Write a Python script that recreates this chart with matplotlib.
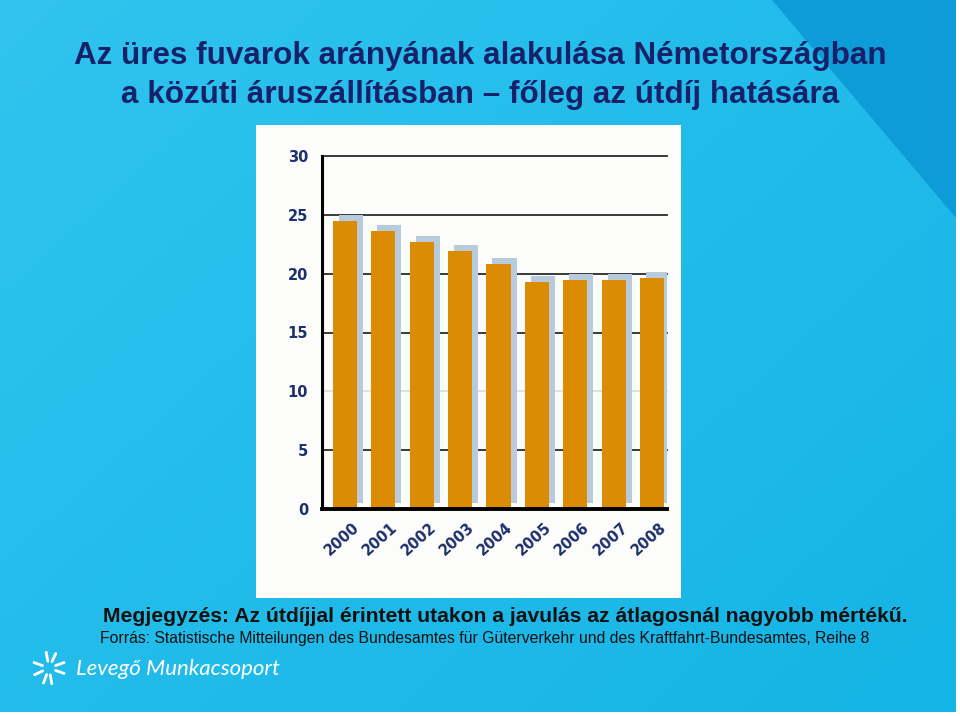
import numpy as np
import matplotlib.pyplot as plt
import matplotlib.transforms as mtransforms
from matplotlib.patches import Rectangle, Polygon

years = ['2000', '2001', '2002', '2003', '2004', '2005', '2006', '2007', '2008']
empty_share = [24.5, 23.6, 22.7, 21.9, 20.8, 19.3, 19.5, 19.5, 19.6]
yticks = [0, 5, 10, 15, 20, 25, 30]

title_lines = ['Az üres fuvarok arányának alakulása Németországban',
               'a közúti áruszállításban – főleg az útdíj hatására']
note = 'Megjegyzés: Az útdíjjal érintett utakon a javulás az átlagosnál nagyobb mértékű.'
source = ('Forrás: Statistische Mitteilungen des Bundesamtes für Güterverkehr '
          'und des Kraftfahrt-Bundesamtes, Reihe 8')
logo = 'Levegő Munkacsoport'

W, H = 960, 716
fig = plt.figure(figsize=(W / 100, H / 100), dpi=100)
fig.patch.set_facecolor('white')

# slide background in pixel coordinates
bg = fig.add_axes([0, 0, 1, 1])
bg.set_xlim(0, W)
bg.set_ylim(H, 0)
bg.axis('off')
yy, xx = np.mgrid[0:1:200j, 0:1:200j]
t = 0.55 * xx + 0.45 * yy
c0 = np.array([48, 196, 238]) / 255
c1 = np.array([20, 180, 230]) / 255
img = c0 + (c1 - c0) * t[..., None]
bg.imshow(img, extent=[0, 956, 712, 0], aspect='auto', zorder=0)
bg.add_patch(Polygon([[772, 0], [956, 0], [956, 218]], closed=True,
                     facecolor='#0e9cd8', edgecolor='none', zorder=1))
bg.add_patch(Rectangle((256, 125), 425, 473, facecolor='#fcfcfa',
                       edgecolor='none', zorder=2))

navy = '#17216a'
sans = ['Liberation Sans', 'DejaVu Sans']
bg.text(480, 56, title_lines[0], ha='center', va='center', fontsize=22.6,
        fontweight='bold', color=navy, family=sans, zorder=3)
bg.text(480, 95, title_lines[1], ha='center', va='center', fontsize=22.6,
        fontweight='bold', color=navy, family=sans, zorder=3)
bg.text(103, 617, note, ha='left', va='center', fontsize=15.2, fontweight='bold',
        color='#111111', family=sans, zorder=3)
bg.text(100, 638, source, ha='left', va='center', fontsize=11.3,
        color='#111111', family=sans, zorder=3)

# logo
cx, cy = 49, 668
for ang in [100, 65, 20, 160, 205, 250, 280, 340]:
    a = np.deg2rad(ang)
    r0, r1 = 7, 16
    bg.plot([cx + r0 * np.cos(a), cx + r1 * np.cos(a)],
            [cy - r0 * np.sin(a), cy - r1 * np.sin(a)],
            color='white', lw=2, solid_capstyle='round', zorder=3)
bg.text(76, 669, logo, ha='left', va='center', fontsize=16, color='white',
        style='italic', family=['Lato', 'DejaVu Sans'], zorder=3)

# chart
ax = fig.add_axes([322 / W, (H - 509) / H, (667 - 322) / W, (509 - 156) / H])
ax.patch.set_alpha(0)
x = np.arange(len(years))
shadow = mtransforms.offset_copy(ax.transData, fig=fig, x=6, y=6, units='dots')
ax.bar(x, empty_share, width=0.63, color='#b8cbdc', transform=shadow, zorder=2)
ax.bar(x, empty_share, width=0.63, color='#dc8b04', zorder=3)
for v in yticks[1:]:
    ax.axhline(v, color='#dddddd' if v == 10 else '#2a2a2a', lw=1.3, zorder=1,
               clip_on=False)
ax.set_xlim(-0.6, 8.39)
ax.set_ylim(0, 30)
ax.set_yticks(yticks)
ax.set_xticks(x)
ax.set_xticklabels(years, rotation=42, ha='right', va='top', rotation_mode='anchor')
ax.tick_params(axis='both', length=0, colors='#1e2f6e', labelsize=10.5)
ax.tick_params(axis='x', pad=8)
ax.tick_params(axis='y', pad=10)
shift = mtransforms.ScaledTranslation(0.07, 0, fig.dpi_scale_trans)
for lab in ax.get_xticklabels():
    lab.set_transform(lab.get_transform() + shift)
for lab in ax.get_xticklabels() + ax.get_yticklabels():
    lab.set_fontweight('bold')
    lab.set_family(['Verdana', 'DejaVu Sans'])
for s in ['top', 'right']:
    ax.spines[s].set_visible(False)
ax.spines['left'].set_linewidth(2.2)
ax.spines['bottom'].set_linewidth(2.8)
ax.spines['left'].set_zorder(4)
ax.spines['bottom'].set_zorder(4)

fig.savefig('out.png', dpi=100)
